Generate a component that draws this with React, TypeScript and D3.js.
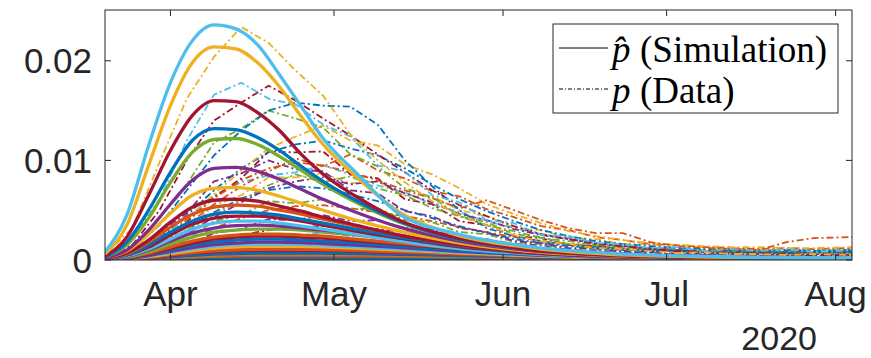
import React from "react";
import * as d3 from "d3";

// simulated curves (p-hat), values in units of 1e-3
const simDates = [
  "2020-03-20", "2020-03-24", "2020-03-28", "2020-04-01", "2020-04-05", "2020-04-09",
  "2020-04-13", "2020-04-17", "2020-04-21", "2020-04-25", "2020-04-29", "2020-05-05",
  "2020-05-13", "2020-05-23", "2020-06-05", "2020-06-20", "2020-07-10", "2020-08-04",
];
const simLightBlue1 = [0.8, 4.5, 11.5, 17.8, 22.0, 23.6, 23.2, 21.6, 18.6, 15.4, 12.2, 8.8, 4.6, 2.7, 1.4, 0.7, 0.35, 0.2];
const simYellow1 = [0.6, 3.5, 9.5, 15.5, 19.8, 21.4, 21.2, 19.8, 17.4, 14.4, 11.6, 8.4, 4.8, 2.6, 1.3, 0.6, 0.3, 0.15];
const simDarkRed1 = [0.4, 2.3, 6.5, 11.0, 14.5, 16.0, 15.9, 14.8, 13.0, 10.6, 8.6, 6.4, 4.0, 2.3, 1.1, 0.5, 0.25, 0.12];
const simBlue1 = [0.3, 1.8, 5.0, 8.8, 12.0, 13.2, 13.1, 12.3, 11.0, 9.4, 7.9, 6.0, 3.9, 2.2, 1.1, 0.5, 0.25, 0.12];
const simGreen1 = [0.3, 1.5, 4.2, 7.8, 10.8, 12.1, 12.2, 11.6, 10.4, 9.0, 7.6, 5.8, 3.8, 2.2, 1.1, 0.5, 0.25, 0.12];
const simPurple1 = [0.2, 1.0, 3.0, 5.6, 8.0, 9.2, 9.3, 8.9, 8.1, 7.1, 6.1, 4.8, 3.3, 2.0, 1.0, 0.5, 0.25, 0.12];
const simYellow2 = [0.2, 0.9, 2.6, 4.7, 6.5, 7.2, 7.3, 7.0, 6.4, 5.7, 5.0, 4.0, 2.9, 1.8, 0.9, 0.45, 0.2, 0.1];
const simDarkRed2 = [0.15, 0.7, 2.0, 3.8, 5.3, 6.0, 6.1, 5.9, 5.4, 4.9, 4.3, 3.5, 2.5, 1.6, 0.8, 0.4, 0.2, 0.1];
const simOrange1 = [0.15, 0.6, 1.8, 3.3, 4.6, 5.3, 5.5, 5.4, 5.0, 4.6, 4.1, 3.4, 2.5, 1.6, 0.85, 0.4, 0.2, 0.1];
const simBlue2 = [0.1, 0.5, 1.5, 2.8, 3.9, 4.6, 4.8, 4.7, 4.5, 4.1, 3.7, 3.1, 2.3, 1.5, 0.8, 0.4, 0.2, 0.1];
const simDarkRed3 = [0.1, 0.5, 1.3, 2.5, 3.6, 4.2, 4.4, 4.4, 4.2, 3.9, 3.5, 2.9, 2.2, 1.4, 0.75, 0.35, 0.18, 0.1];
const simLightBlue2 = [0.1, 0.4, 1.1, 2.1, 3.1, 3.7, 3.9, 3.9, 3.7, 3.4, 3.1, 2.6, 1.9, 1.2, 0.65, 0.3, 0.15, 0.08];
const simPurple2 = [0.08, 0.35, 1.0, 1.9, 2.7, 3.2, 3.45, 3.5, 3.4, 3.2, 3.0, 2.6, 2.0, 1.35, 0.75, 0.35, 0.18, 0.09];
const simGreen2 = [0.08, 0.3, 0.8, 1.6, 2.3, 2.8, 3.0, 3.1, 3.1, 3.0, 2.8, 2.5, 2.0, 1.4, 0.8, 0.4, 0.2, 0.1];
const simOrange2 = [0.06, 0.25, 0.7, 1.3, 1.9, 2.3, 2.5, 2.6, 2.6, 2.5, 2.4, 2.1, 1.7, 1.2, 0.7, 0.35, 0.18, 0.1];
const simDarkRed4 = [0.05, 0.22, 0.6, 1.15, 1.7, 2.1, 2.3, 2.4, 2.4, 2.3, 2.2, 1.95, 1.6, 1.15, 0.7, 0.35, 0.18, 0.1];
const simBlue3 = [0.05, 0.2, 0.55, 1.0, 1.5, 1.8, 2.0, 2.1, 2.1, 2.0, 1.9, 1.7, 1.4, 1.0, 0.6, 0.3, 0.15, 0.08];
const simPurple3 = [0.04, 0.15, 0.45, 0.85, 1.25, 1.55, 1.7, 1.8, 1.8, 1.75, 1.65, 1.5, 1.25, 0.9, 0.55, 0.3, 0.15, 0.08];
const simLightBlue3 = [0.04, 0.14, 0.4, 0.75, 1.1, 1.38, 1.52, 1.6, 1.6, 1.56, 1.48, 1.33, 1.1, 0.8, 0.5, 0.27, 0.13, 0.07];
const simYellow3 = [0.03, 0.12, 0.35, 0.65, 0.95, 1.2, 1.32, 1.4, 1.4, 1.38, 1.32, 1.2, 1.0, 0.75, 0.45, 0.25, 0.12, 0.06];
const simOrange3 = [0.03, 0.1, 0.28, 0.52, 0.75, 0.92, 1.03, 1.08, 1.1, 1.08, 1.04, 0.96, 0.82, 0.62, 0.4, 0.22, 0.11, 0.06];
const simDarkRed5 = [0.03, 0.09, 0.25, 0.47, 0.68, 0.84, 0.94, 0.99, 1.0, 0.99, 0.96, 0.89, 0.77, 0.6, 0.4, 0.22, 0.11, 0.06];
const simBlue4 = [0.02, 0.07, 0.2, 0.38, 0.55, 0.67, 0.75, 0.79, 0.8, 0.8, 0.78, 0.73, 0.64, 0.5, 0.33, 0.19, 0.1, 0.05];
const simPurple4 = [0.02, 0.06, 0.17, 0.32, 0.47, 0.58, 0.65, 0.69, 0.7, 0.7, 0.69, 0.65, 0.57, 0.45, 0.3, 0.17, 0.09, 0.05];
const simGreen3 = [0.02, 0.05, 0.14, 0.27, 0.4, 0.5, 0.56, 0.59, 0.6, 0.6, 0.59, 0.56, 0.5, 0.4, 0.27, 0.16, 0.08, 0.04];
const simOrange4 = [0.01, 0.04, 0.1, 0.2, 0.3, 0.37, 0.42, 0.44, 0.45, 0.45, 0.44, 0.42, 0.38, 0.31, 0.22, 0.14, 0.07, 0.04];
const simBlue5 = [0.01, 0.02, 0.06, 0.11, 0.16, 0.2, 0.23, 0.24, 0.25, 0.25, 0.25, 0.24, 0.22, 0.19, 0.14, 0.09, 0.05, 0.03];
const simOrange5 = [0.0, 0.01, 0.03, 0.05, 0.07, 0.08, 0.09, 0.1, 0.1, 0.1, 0.1, 0.1, 0.09, 0.08, 0.06, 0.04, 0.03, 0.02];

// observed curves (p), values in units of 1e-3
const dataDates = [
  "2020-03-20", "2020-03-25", "2020-03-30", "2020-04-04", "2020-04-09", "2020-04-14",
  "2020-04-19", "2020-04-24", "2020-04-29", "2020-05-04", "2020-05-09", "2020-05-14",
  "2020-05-19", "2020-05-24", "2020-05-29", "2020-06-03", "2020-06-08", "2020-06-13",
  "2020-06-18", "2020-06-23", "2020-06-28", "2020-07-03", "2020-07-08", "2020-07-13",
  "2020-07-18", "2020-07-23", "2020-07-28", "2020-08-04",
];
const obsYellow1 = [0.5, 3.2, 9.8, 16.2, 20.4, 23.4, 21.8, 19.0, 16.5, 12.6, 10.0, 7.8, 5.9, 4.5, 3.5, 2.5, 1.9, 1.6, 1.2, 1.1, 0.9, 0.7, 0.8, 0.6, 0.6, 0.5, 0.6, 0.5];
const obsLightBlue1 = [0.3, 2.2, 6.1, 12.0, 16.6, 17.8, 16.2, 15.6, 13.6, 12.4, 9.5, 8.9, 6.5, 5.8, 4.0, 3.7, 2.5, 2.4, 1.7, 1.6, 1.2, 1.3, 0.9, 1.1, 0.9, 1.1, 0.8, 1.0];
const obsDarkRed1 = [0.2, 1.5, 5.0, 10.0, 14.0, 15.8, 17.5, 16.0, 14.2, 12.5, 10.6, 8.8, 7.0, 5.5, 4.4, 3.4, 2.6, 2.1, 1.6, 1.4, 1.1, 0.9, 0.8, 0.7, 0.7, 0.6, 0.6, 0.5];
const obsBlue1 = [0.2, 1.0, 3.5, 7.0, 10.5, 13.0, 15.0, 15.8, 15.5, 15.4, 13.6, 10.0, 7.4, 5.0, 3.2, 2.4, 1.9, 1.5, 1.3, 1.1, 1.0, 0.9, 0.8, 0.7, 0.8, 0.7, 0.8, 0.8];
const obsGreen1 = [0.2, 1.2, 4.3, 7.6, 11.8, 13.2, 15.0, 14.2, 13.3, 10.6, 9.4, 7.2, 6.3, 4.4, 3.8, 2.6, 2.3, 1.6, 1.5, 1.1, 1.1, 0.8, 0.9, 0.7, 0.8, 0.6, 0.7, 0.7];
const obsOrange1 = [0.1, 0.5, 1.8, 4.0, 6.2, 8.0, 9.2, 9.8, 9.5, 8.8, 8.0, 7.0, 6.2, 5.2, 6.0, 5.0, 4.0, 3.2, 2.7, 2.7, 1.8, 1.4, 1.2, 1.1, 1.0, 1.8, 2.2, 2.3];
const obsPurple1 = [0.1, 0.7, 2.8, 4.7, 7.9, 8.7, 10.0, 9.1, 8.9, 7.0, 6.7, 4.9, 4.4, 3.2, 2.8, 1.9, 1.7, 1.2, 1.2, 0.8, 0.9, 0.6, 0.8, 0.5, 0.7, 0.5, 0.6, 0.6];
const obsDarkRed2 = [0.1, 0.5, 1.8, 3.8, 6.3, 8.2, 10.9, 10.8, 10.9, 8.6, 8.2, 6.1, 5.6, 3.9, 3.5, 2.4, 2.2, 1.5, 1.4, 1.0, 1.1, 0.8, 0.9, 0.6, 0.8, 0.5, 0.7, 0.6];
const obsLightBlue2 = [0.1, 0.6, 2.0, 4.2, 6.5, 7.8, 8.5, 8.8, 9.5, 8.6, 7.5, 6.8, 5.6, 4.8, 3.9, 3.2, 2.6, 2.2, 1.7, 1.4, 1.2, 1.1, 1.0, 1.0, 0.9, 0.9, 1.0, 1.0];
const obsYellow2 = [0.1, 0.5, 1.7, 3.0, 5.5, 6.5, 8.3, 8.3, 8.7, 7.7, 7.9, 6.5, 6.4, 5.0, 4.4, 3.2, 3.0, 2.2, 2.1, 1.6, 1.6, 1.2, 1.3, 1.1, 1.1, 1.0, 1.1, 1.1];
const obsBlue2 = [0.1, 0.4, 1.4, 3.0, 4.8, 6.2, 7.0, 7.4, 7.2, 6.6, 5.9, 5.0, 4.2, 3.4, 2.7, 2.1, 1.7, 1.4, 1.2, 1.0, 0.9, 0.9, 0.8, 0.8, 0.7, 0.8, 0.8, 0.9];
const obsGreen2 = [0.05, 0.3, 1.1, 2.0, 3.9, 4.5, 5.9, 5.7, 6.1, 5.1, 5.2, 4.0, 3.8, 2.8, 2.6, 1.8, 1.6, 1.1, 1.1, 0.8, 0.9, 0.6, 0.8, 0.5, 0.7, 0.5, 0.7, 0.6];
const obsOrange2 = [0.05, 0.3, 0.9, 2.0, 3.2, 4.2, 5.0, 5.4, 5.5, 5.2, 4.8, 4.4, 3.9, 3.3, 2.8, 2.3, 1.9, 1.6, 1.4, 1.2, 1.1, 1.0, 0.9, 0.9, 0.8, 0.8, 0.9, 0.9];
const obsPurple2 = [0.04, 0.2, 0.8, 1.4, 2.7, 3.1, 4.1, 4.0, 4.5, 3.9, 4.0, 3.2, 3.1, 2.3, 2.1, 1.6, 1.5, 1.0, 1.0, 0.7, 0.8, 0.5, 0.7, 0.4, 0.6, 0.4, 0.6, 0.5];
const obsDarkRed3 = [0.03, 0.15, 0.5, 1.1, 1.8, 2.5, 3.0, 3.3, 3.4, 3.3, 3.1, 2.8, 2.5, 2.1, 1.7, 1.4, 1.1, 0.9, 0.8, 0.7, 0.6, 0.5, 0.5, 0.4, 0.4, 0.4, 0.4, 0.4];
const obsLightBlue3 = [0.02, 0.1, 0.4, 0.7, 1.4, 1.7, 2.4, 2.3, 2.8, 2.4, 2.5, 2.0, 2.1, 1.5, 1.5, 1.1, 1.1, 0.8, 0.9, 0.6, 0.8, 0.5, 0.8, 0.5, 0.7, 0.6, 0.8, 0.8];
const obsBlue3 = [0.02, 0.08, 0.25, 0.55, 0.9, 1.25, 1.5, 1.7, 1.8, 1.8, 1.7, 1.6, 1.4, 1.2, 1.0, 0.9, 0.8, 0.7, 0.6, 0.6, 0.5, 0.5, 0.5, 0.5, 0.5, 0.5, 0.6, 0.6];
const obsGreen3 = [0.01, 0.05, 0.15, 0.35, 0.6, 0.85, 1.0, 1.1, 1.2, 1.2, 1.1, 1.0, 0.9, 0.8, 0.7, 0.6, 0.55, 0.5, 0.45, 0.4, 0.4, 0.4, 0.4, 0.4, 0.4, 0.4, 0.4, 0.4];
const obsOrange3 = [0.01, 0.03, 0.1, 0.2, 0.35, 0.5, 0.6, 0.65, 0.7, 0.7, 0.65, 0.6, 0.55, 0.5, 0.45, 0.4, 0.35, 0.3, 0.3, 0.3, 0.3, 0.25, 0.25, 0.25, 0.3, 0.3, 0.3, 0.3];
const obsBlue4 = [0.1, 0.6, 2.2, 4.5, 7.0, 9.2, 10.8, 11.6, 12.0, 11.2, 10.5, 9.2, 7.6, 6.1, 4.9, 3.9, 3.0, 2.4, 1.9, 1.6, 1.4, 1.2, 1.1, 1.0, 0.9, 1.0, 0.9, 1.0];
const obsOrange4 = [0.1, 0.4, 1.5, 3.5, 5.6, 7.4, 8.9, 10.2, 9.4, 10.6, 9.0, 8.2, 6.9, 6.4, 5.1, 4.3, 3.4, 3.0, 2.3, 2.0, 1.6, 1.5, 1.3, 1.2, 1.1, 1.2, 1.1, 1.2];
const obsPurple3 = [0.05, 0.3, 1.1, 2.6, 4.3, 5.8, 7.2, 7.9, 8.3, 7.6, 7.9, 6.7, 5.8, 4.6, 4.0, 3.1, 2.5, 2.1, 1.7, 1.4, 1.2, 1.0, 0.9, 0.9, 0.8, 0.8, 0.8, 0.8];
const obsGreen4 = [0.05, 0.4, 1.3, 2.9, 4.6, 6.0, 7.5, 8.6, 7.8, 8.4, 7.2, 6.5, 5.2, 4.4, 3.5, 2.9, 2.2, 1.9, 1.5, 1.3, 1.1, 1.0, 0.9, 0.9, 0.8, 0.8, 0.8, 0.8];
const obsYellow3 = [0.1, 0.5, 1.9, 4.0, 6.6, 9.0, 11.2, 12.4, 13.5, 12.0, 11.5, 9.6, 8.6, 7.2, 5.6, 4.6, 3.7, 2.9, 2.4, 2.0, 1.7, 1.5, 1.4, 1.3, 1.3, 1.2, 1.2, 1.3];

const monthTicks = ["2020-04-01", "2020-05-01", "2020-06-01", "2020-07-01", "2020-08-01"];
const monthLabels = ["Apr", "May", "Jun", "Jul", "Aug"];
const yTicks = [0, 0.01, 0.02];
const yearLabel = "2020";

const C = {
  blue: "#0072BD", orange: "#D95319", yellow: "#EDB120", purple: "#7E2F8E",
  green: "#77AC30", lightBlue: "#4DBEEE", darkRed: "#A2142F",
};

// drawn smallest first so the big curves sit on top
const simCurves: [number[], string][] = [
  [simOrange5, C.orange], [simBlue5, C.blue], [simOrange4, C.orange], [simGreen3, C.green],
  [simPurple4, C.purple], [simBlue4, C.blue], [simDarkRed5, C.darkRed], [simOrange3, C.orange],
  [simYellow3, C.yellow], [simLightBlue3, C.lightBlue], [simPurple3, C.purple], [simBlue3, C.blue],
  [simDarkRed4, C.darkRed], [simOrange2, C.orange], [simGreen2, C.green], [simPurple2, C.purple],
  [simLightBlue2, C.lightBlue], [simDarkRed3, C.darkRed], [simBlue2, C.blue], [simOrange1, C.orange],
  [simDarkRed2, C.darkRed], [simYellow2, C.yellow], [simPurple1, C.purple], [simGreen1, C.green],
  [simBlue1, C.blue], [simDarkRed1, C.darkRed], [simYellow1, C.yellow], [simLightBlue1, C.lightBlue],
];
const obsCurves: [number[], string][] = [
  [obsOrange3, C.orange], [obsGreen3, C.green], [obsBlue3, C.blue], [obsLightBlue3, C.lightBlue],
  [obsDarkRed3, C.darkRed], [obsPurple2, C.purple], [obsOrange2, C.orange], [obsGreen2, C.green],
  [obsBlue2, C.blue], [obsYellow2, C.yellow], [obsLightBlue2, C.lightBlue], [obsDarkRed2, C.darkRed],
  [obsGreen4, C.green], [obsPurple3, C.purple], [obsOrange4, C.orange], [obsBlue4, C.blue],
  [obsYellow3, C.yellow], [obsPurple1, C.purple], [obsOrange1, C.orange], [obsGreen1, C.green],
  [obsBlue1, C.blue], [obsDarkRed1, C.darkRed], [obsLightBlue1, C.lightBlue], [obsYellow1, C.yellow],
];

const parse = d3.timeParse("%Y-%m-%d");
const W = 871;
const H = 358;
const left = 105, right = 852, top = 10, bottom = 260;
const axisColor = "#262626";
const sans = "'Liberation Sans', Arial, sans-serif";
const serif = "'Liberation Serif', 'Times New Roman', serif";

export default function App() {
  const x = d3.scaleTime()
    .domain([parse("2020-03-20") as Date, parse("2020-08-04") as Date])
    .range([left, right]);
  const y = d3.scaleLinear().domain([0, 0.0251]).range([bottom, top]);

  const simX = simDates.map((d) => x(parse(d) as Date));
  const obsX = dataDates.map((d) => x(parse(d) as Date));

  const simLine = d3.line<number>()
    .x((_, i) => simX[i])
    .y((v) => y(v / 1000))
    .curve(d3.curveMonotoneX);
  const obsLine = d3.line<number>()
    .x((_, i) => obsX[i])
    .y((v) => y(v / 1000));

  return (
    <svg width={W} height={H} style={{ position: "absolute", left: 0, top: 0, background: "#fff" }}>
      <defs>
        <clipPath id="plot">
          <rect x={left} y={top} width={right - left} height={bottom - top} />
        </clipPath>
      </defs>
      <g clipPath="url(#plot)">
        {obsCurves.map(([vals, col], i) => (
          <path key={"o" + i} d={obsLine(vals) || ""} fill="none" stroke={col}
            strokeWidth={1.8} strokeDasharray="7 3 2 3" />
        ))}
        {simCurves.map(([vals, col], i) => (
          <path key={"s" + i} d={simLine(vals) || ""} fill="none" stroke={col}
            strokeWidth={3.3} />
        ))}
      </g>

      {/* axes box */}
      <rect x={left} y={top} width={right - left} height={bottom - top}
        fill="none" stroke={axisColor} strokeWidth={1} />
      {monthTicks.map((d, i) => {
        const px = x(parse(d) as Date);
        return (
          <g key={d}>
            <line x1={px} x2={px} y1={bottom} y2={bottom - 6} stroke={axisColor} />
            <line x1={px} x2={px} y1={top} y2={top + 6} stroke={axisColor} />
            <text x={px} y={306} textAnchor="middle" fontFamily={sans} fontSize={35}
              fill={axisColor}>{monthLabels[i]}</text>
          </g>
        );
      })}
      <text x={817} y={350} textAnchor="end" fontFamily={sans} fontSize={34}
        fill={axisColor}>{yearLabel}</text>
      {yTicks.map((t) => (
        <g key={t}>
          <line x1={left} x2={left + 6} y1={y(t)} y2={y(t)} stroke={axisColor} />
          <line x1={right} x2={right - 6} y1={y(t)} y2={y(t)} stroke={axisColor} />
          <text x={92} y={y(t) + 12.5} textAnchor="end" fontFamily={sans} fontSize={35}
            fill={axisColor}>{String(t)}</text>
        </g>
      ))}

      {/* legend */}
      <rect x={553} y={24} width={285} height={89} fill="#fff" stroke={axisColor} strokeWidth={1} />
      <line x1={559} x2={608} y1={48} y2={48} stroke="#000" strokeWidth={1} />
      <line x1={559} x2={608} y1={89} y2={89} stroke="#000" strokeWidth={1} strokeDasharray="4 2 1 2" />
      <text x={612} y={62} fontFamily={serif} fontSize={37} fill="#000">
        <tspan fontStyle="italic">{"p\u0302"}</tspan>
        <tspan x={640}>(Simulation)</tspan>
      </text>
      <text x={612} y={103} fontFamily={serif} fontSize={37} fill="#000">
        <tspan fontStyle="italic">p</tspan>
        <tspan x={640}>(Data)</tspan>
      </text>
    </svg>
  );
}
